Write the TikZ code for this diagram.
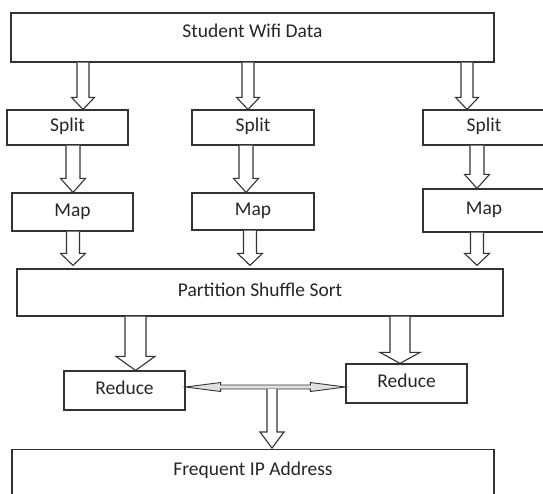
\documentclass[tikz,border=0pt]{standalone}
\usepackage{fontspec}
\setmainfont{Carlito}
\usetikzlibrary{calc}

\tikzset{
  box/.style={draw=black!80, line width=1.2pt, fill=white, inner sep=0pt,
    text height=12pt, text depth=4pt, text=black!85,
    font=\fontsize{19.5}{22}\selectfont},
  arrowbody/.style={draw=black!80, line width=1.1pt, fill=white, line join=miter}
}

% hollow block arrow pointing down: shaft half width, head half width, head length, from, to
\newcommand{\hollowarrow}[5]{%
  \filldraw[arrowbody] let \p1=#4, \p2=#5 in
    (\x1-#1pt,\y1) -- (\x1-#1pt,\y2+#3pt) -- (\x1-#2pt,\y2+#3pt) -- (\x1,\y2)
    -- (\x1+#2pt,\y2+#3pt) -- (\x1+#1pt,\y2+#3pt) -- (\x1+#1pt,\y1);
}
% thin two-headed arrow between two boxes
\newcommand{\twowayarrow}[5]{%
  \filldraw[arrowbody, fill=black!12, line width=0.9pt] let \p1=#4, \p2=#5, \p3=($#4!0.5!#5$) in
    (\x1,\y3) -- (\x1+#3pt,\y3+#2pt) -- (\x1+#3pt,\y3+#1pt) -- (\x2-#3pt,\y3+#1pt)
    -- (\x2-#3pt,\y3+#2pt) -- (\x2,\y3) -- (\x2-#3pt,\y3-#2pt) -- (\x2-#3pt,\y3-#1pt)
    -- (\x1+#3pt,\y3-#1pt) -- (\x1+#3pt,\y3-#2pt) -- cycle;
}

\begin{document}
\begin{tikzpicture}[x=1pt, y=-1pt]
    \useasboundingbox (0,0) rectangle (543,493);
    \clip (0,0) rectangle (543,493);
    % boxes
    \node[box, minimum width=483pt, minimum height=49pt, text depth=13pt] (data) at (252.5,37.5) {Student Wifi Data};
    \node[box, minimum width=121pt, minimum height=35pt] (split1) at (67.5,127.5) {Split};
    \node[box, minimum width=122pt, minimum height=35pt] (split2) at (253,127.5) {Split};
    \node[box, minimum width=122pt, minimum height=35pt] (split3) at (484,127.5) {Split};
    \node[box, minimum width=121pt, minimum height=38pt] (map1) at (72.5,212) {Map};
    \node[box, minimum width=122pt, minimum height=37pt] (map2) at (253,211.5) {Map};
    \node[box, minimum width=122pt, minimum height=43pt] (map3) at (484,210.5) {Map};
    \node[box, minimum width=486pt, minimum height=47pt] (part) at (260,292.5) {Partition Shuffle Sort};
    \node[box, minimum width=121pt, minimum height=39pt] (red1) at (124.5,390.5) {Reduce};
    \node[box, minimum width=121pt, minimum height=39pt] (red2) at (406.5,383.5) {Reduce};
    \node[box, minimum width=482pt, minimum height=60pt, text depth=20pt, anchor=north] (ip) at (253,449) {Frequent IP Address};
    \coordinate (mid) at (272,389);
    % arrows
    \hollowarrow{6}{11.5}{12}{([xshift=-169.5pt]data.south)}{(split1.north)}
    \hollowarrow{6}{11.5}{12}{([xshift=-4.5pt]data.south)}{(split2.north)}
    \hollowarrow{6}{11.5}{12}{([xshift=214.5pt]data.south)}{(split3.north)}
    \hollowarrow{7}{12.5}{14}{([xshift=5.5pt]split1.south)}{(map1.north)}
    \hollowarrow{7}{12.5}{14}{([xshift=-7pt]split2.south)}{(map2.north)}
    \hollowarrow{7}{12.5}{14}{([xshift=-7pt]split3.south)}{(map3.north)}
    \hollowarrow{6.5}{12.5}{12}{([xshift=0.5pt]map1.south)}{([yshift=3pt]part.north)}
    \hollowarrow{6.5}{12.5}{12}{([xshift=-3pt]map2.south)}{([yshift=3pt]part.north)}
    \hollowarrow{6.5}{12.5}{12}{([xshift=-7pt]map3.south)}{([yshift=3pt]part.north)}
    \hollowarrow{10.5}{19.5}{14}{([xshift=-124.5pt]part.south)}{(red1.north)}
    \hollowarrow{10}{20}{11}{([xshift=140pt]part.south)}{(red2.north)}
    \twowayarrow{2}{4.5}{35}{(red1.east)}{(red2.west)}
    \hollowarrow{5}{12}{16}{(mid)}{([yshift=1pt]ip.north)}
\end{tikzpicture}
\end{document}
